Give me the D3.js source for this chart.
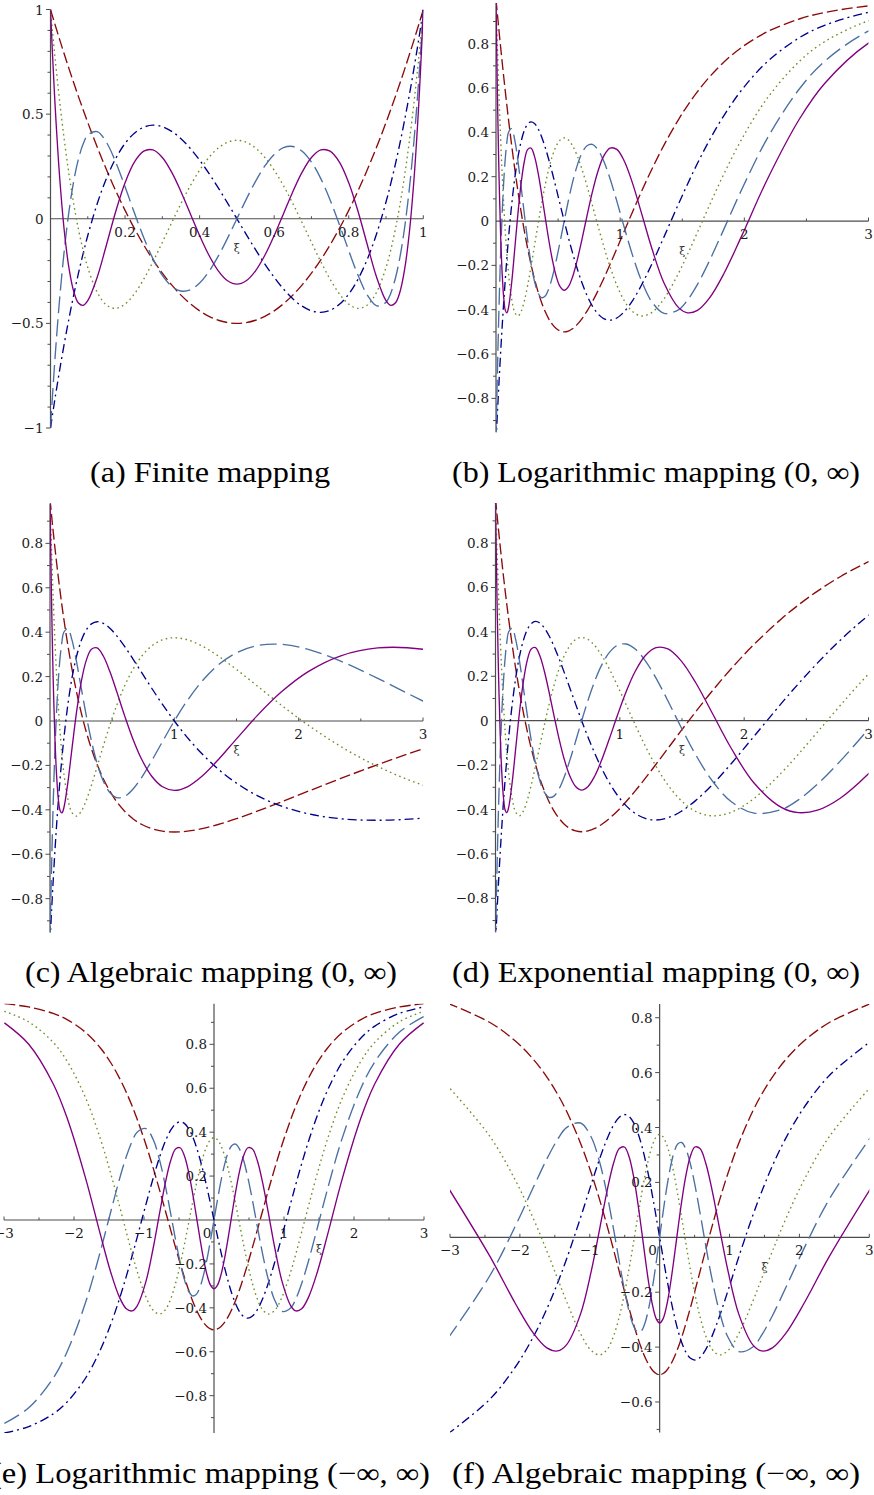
<!DOCTYPE html>
<html><head><meta charset="utf-8">
<script src="https://cdn.jsdelivr.net/npm/d3@7"></script>
<style>body{margin:0;background:#fff} svg{display:block}</style>
</head><body><svg id="c" width="874" height="1495"></svg>
<script>
// Values of the five curves, read along the mapped coordinate (shared across panels)
const P2 = [1,0.98504,0.97015,0.9406,0.91135,0.85375,0.78344,0.715,0.64844,0.58375,0.52094,0.46,0.34375,0.235,0.13375,0.04,-0.04625,-0.125,-0.19625,-0.26,-0.31625,-0.365,-0.40625,-0.44,-0.46625,-0.485,-0.49625,-0.5,-0.49625,-0.485,-0.46625,-0.44,-0.40625,-0.365,-0.31625,-0.26,-0.19625,-0.125,-0.04625,0.04,0.13375,0.235,0.34375,0.46,0.52094,0.58375,0.64844,0.715,0.78344,0.85375,0.91135,0.9406,0.97015,0.98504,1];
const P3 = [-1,-0.97019,-0.94075,-0.88298,-0.82668,-0.71844,-0.59113,-0.4725,-0.3623,-0.26031,-0.16629,-0.08,0.07031,0.1925,0.28844,0.36,0.40906,0.4375,0.44719,0.44,0.41781,0.3825,0.33594,0.28,0.21656,0.1475,0.07469,0,-0.07469,-0.1475,-0.21656,-0.28,-0.33594,-0.3825,-0.41781,-0.44,-0.44719,-0.4375,-0.40906,-0.36,-0.28844,-0.1925,-0.07031,0.08,0.16629,0.26031,0.3623,0.4725,0.59113,0.71844,0.82668,0.88298,0.94075,0.97019,1];
const P4 = [1,0.95056,0.90223,0.80886,0.71978,0.55409,0.36932,0.20794,0.06845,-0.0506,-0.15062,-0.233,-0.3501,-0.41206,-0.42841,-0.408,-0.35904,-0.28906,-0.20497,-0.113,-0.01872,0.07294,0.15771,0.232,0.29284,0.33794,0.36565,0.375,0.36565,0.33794,0.29284,0.232,0.15771,0.07294,-0.01872,-0.113,-0.20497,-0.28906,-0.35904,-0.408,-0.42841,-0.41206,-0.3501,-0.233,-0.15062,-0.0506,0.06845,0.20794,0.36932,0.55409,0.71978,0.80886,0.90223,0.95056,1];
const P5 = [-1,-0.9263,-0.85518,-0.72045,-0.59539,-0.37274,-0.14201,0.04114,0.18203,0.28566,0.35671,0.39952,0.41638,0.3652,0.27049,0.15264,0.0282,-0.08984,-0.19172,-0.27064,-0.32246,-0.34539,-0.33972,-0.30752,-0.25232,-0.17883,-0.09266,0,0.09266,0.17883,0.25232,0.30752,0.33972,0.34539,0.32246,0.27064,0.19172,0.08984,-0.0282,-0.15264,-0.27049,-0.3652,-0.41638,-0.39952,-0.35671,-0.28566,-0.18203,-0.04114,0.14201,0.37274,0.59539,0.72045,0.85518,0.9263,1];
const P6 = [1,0.8976,0.80029,0.62035,0.45899,0.18745,-0.06694,-0.24116,-0.34906,-0.403,-0.414,-0.3918,-0.28078,-0.12529,0.03468,0.1721,0.27077,0.32324,0.32898,0.29264,0.22251,0.12918,0.02428,-0.08058,-0.17465,-0.24883,-0.29622,-0.3125,-0.29622,-0.24883,-0.17465,-0.08058,0.02428,0.12918,0.22251,0.29264,0.32898,0.32324,0.27077,0.1721,0.03468,-0.12529,-0.28078,-0.3918,-0.414,-0.403,-0.34906,-0.24116,-0.06694,0.18745,0.45899,0.62035,0.80029,0.8976,1];

// ξ positions of those same samples, one array per panel
const XI_A = [0,0.0025,0.005,0.01,0.015,0.025,0.0375,0.05,0.0625,0.075,0.0875,0.1,0.125,0.15,0.175,0.2,0.225,0.25,0.275,0.3,0.325,0.35,0.375,0.4,0.425,0.45,0.475,0.5,0.525,0.55,0.575,0.6,0.625,0.65,0.675,0.7,0.725,0.75,0.775,0.8,0.825,0.85,0.875,0.9,0.9125,0.925,0.9375,0.95,0.9625,0.975,0.985,0.99,0.995,0.9975,1];
const XI_B = [0,0.0025,0.005,0.01,0.015,0.025005,0.037518,0.050042,0.062581,0.075141,0.087724,0.100335,0.125657,0.15114,0.176819,0.202733,0.228917,0.255413,0.282265,0.30952,0.337228,0.365444,0.394229,0.423649,0.453778,0.4847,0.516507,0.549306,0.583218,0.618381,0.654961,0.693147,0.733169,0.775299,0.819872,0.867301,0.918106,0.972955,1.032728,1.098612,1.172275,1.256153,1.354025,1.472219,1.542265,1.622597,1.716994,1.831781,1.978817,2.184724,2.442662,2.646652,2.994481,3.34168,null];
const XI_C = [0,0.002506,0.005025,0.010101,0.015228,0.025641,0.038961,0.052632,0.066667,0.081081,0.09589,0.111111,0.142857,0.176471,0.212121,0.25,0.290323,0.333333,0.37931,0.428571,0.481481,0.538462,0.6,0.666667,0.73913,0.818182,0.904762,1,1.105263,1.222222,1.352941,1.5,1.666667,1.857143,2.076923,2.333333,2.636364,3,3.444444,null,null,null,null,null,null,null,null,null,null,null,null,null,null,null,null];
const XI_D = [0,0.002503,0.005013,0.01005,0.015114,0.025318,0.038221,0.051293,0.064539,0.077962,0.091567,0.105361,0.133531,0.162519,0.192372,0.223144,0.254892,0.287682,0.321584,0.356675,0.393043,0.430783,0.470004,0.510826,0.553385,0.597837,0.644357,0.693147,0.74444,0.798508,0.855666,0.916291,0.980829,1.049822,1.12393,1.203973,1.290984,1.386294,1.491655,1.609438,1.742969,1.89712,2.079442,2.302585,2.436116,2.590267,2.772589,2.995732,3.283414,null,null,null,null,null,null];
const XI_E = [null,-2.994481,-2.646652,-2.29756,-2.092296,-1.831781,-1.622597,-1.472219,-1.354025,-1.256153,-1.172275,-1.098612,-0.972955,-0.867301,-0.775299,-0.693147,-0.618381,-0.549306,-0.4847,-0.423649,-0.365444,-0.30952,-0.255413,-0.202733,-0.15114,-0.100335,-0.050042,0,0.050042,0.100335,0.15114,0.202733,0.255413,0.30952,0.365444,0.423649,0.4847,0.549306,0.618381,0.693147,0.775299,0.867301,0.972955,1.098612,1.172275,1.256153,1.354025,1.472219,1.622597,1.831781,2.092296,2.29756,2.646652,2.994481,null];
const XI_F = [null,null,null,null,null,-3.042434,-2.434422,-2.064742,-1.807392,-1.613568,-1.459833,-1.333333,-1.133893,-0.980196,-0.855337,-0.75,-0.658549,-0.57735,-0.503903,-0.436436,-0.373632,-0.314485,-0.258199,-0.204124,-0.151717,-0.100504,-0.050063,0,0.050063,0.100504,0.151717,0.204124,0.258199,0.314485,0.373632,0.436436,0.503903,0.57735,0.658549,0.75,0.855337,0.980196,1.133893,1.333333,1.459833,1.613568,1.807392,2.064742,2.434422,3.042434,null,null,null,null,null];

// tick labels
const XT_A = [0.2,0.4,0.6,0.8,1];
const YT_A = [-1,-0.5,0,0.5,1];
const XT_POS = [1,2,3];
const YT_POS = [-0.8,-0.6,-0.4,-0.2,0,0.2,0.4,0.6,0.8];
const XT_ALL = [-3,-2,-1,0,1,2,3];
const YT_E = [-0.8,-0.6,-0.4,-0.2,0.2,0.4,0.6,0.8];
const YT_F = [-0.6,-0.4,-0.2,0.2,0.4,0.6,0.8];
const CAPTIONS = ["(a) Finite mapping","(b) Logarithmic mapping (0, \u221E)","(c) Algebraic mapping (0, \u221E)","(d) Exponential mapping (0, \u221E)","(e) Logarithmic mapping (\u2212\u221E, \u221E)","(f) Algebraic mapping (\u2212\u221E, \u221E)"];

const SERIES = [
  {y:P2, color:"#8b0a0a", dash:"11,4"},
  {y:P3, color:"#00008b", dash:"9,4,2,4"},
  {y:P4, color:"#6b8e23", dash:"1.6,3.4"},
  {y:P5, color:"#4a6fa3", dash:"17,6"},
  {y:P6, color:"#800080", dash:null}
];

const panels = [
  {xi:XI_A, xd:[0,1], xr:[50.5,423.3], yd:[-1,1], yr:[428,9.5], xt:XT_A, xm:0.1, yt:YT_A, cap:CAPTIONS[0], cx:90, cy:482, cw:240},
  {xi:XI_B, xd:[0,3], xr:[496,868.5], yd:[-0.953,0.983], yr:[432.3,3.1], xt:XT_POS, xm:0.5, yt:YT_POS, cap:CAPTIONS[1], cx:452, cy:482, cw:408},
  {xi:XI_C, xd:[0,3], xr:[50,423], yd:[-0.953,0.98], yr:[932.6,503.4], xt:XT_POS, xm:0.5, yt:YT_POS, cap:CAPTIONS[2], cx:25, cy:982, cw:372},
  {xi:XI_D, xd:[0,3], xr:[495.5,868.5], yd:[-0.953,0.98], yr:[932.3,503.1], xt:XT_POS, xm:0.5, yt:YT_POS, cap:CAPTIONS[3], cx:452, cy:982, cw:408},
  {xi:XI_E, xd:[-3,3], xr:[4,424], yd:[-0.9705,0.985], yr:[1433.1,1003.7], xt:XT_ALL, xm:0.5, yt:YT_E, cap:CAPTIONS[4], cx:-9, cy:1483, cw:439},
  {xi:XI_F, xd:[-3,3], xr:[450,869.3], yd:[-0.7115,0.8503], yr:[1432.6,1003.9], xt:XT_ALL, xm:0.5, yt:YT_F, cap:CAPTIONS[5], cx:452, cy:1483, cw:408}
];

const svg = d3.select("#c");
const fmt = v => (v < 0 ? "\u2212" : "") + String(Math.abs(v));
const AX = "#4d4d4d";
const TF = "DejaVu Serif, serif";

panels.forEach((p, k) => {
  const x = d3.scaleLinear().domain(p.xd).range(p.xr);
  const y = d3.scaleLinear().domain(p.yd).range(p.yr);
  const g = svg.append("g");
  const x0 = x(0), y0 = y(0);

  // axes lines
  g.append("line").attr("x1", p.xr[0]).attr("x2", p.xr[1]).attr("y1", y0).attr("y2", y0)
    .attr("stroke", AX).attr("stroke-width", 1.2);
  g.append("line").attr("x1", x0).attr("x2", x0).attr("y1", p.yr[0]).attr("y2", p.yr[1])
    .attr("stroke", AX).attr("stroke-width", 1.2);

  // y ticks
  const yMin = Math.ceil(p.yd[0] * 10 - 1e-9), yMax = Math.floor(p.yd[1] * 10 + 1e-9);
  d3.range(yMin, yMax + 1).forEach(i => {
    if (i === 0) return;
    const v = i / 10;
    const major = p.yt.some(t => Math.abs(t - v) < 1e-9);
    g.append("line").attr("x1", x0 - (major ? 4.5 : 3)).attr("x2", x0)
      .attr("y1", y(v)).attr("y2", y(v)).attr("stroke", AX).attr("stroke-width", 1);
  });
  // x ticks
  const step = p.xm;
  const xMin = Math.ceil(p.xd[0] / step - 1e-9), xMax = Math.floor(p.xd[1] / step + 1e-9);
  d3.range(xMin, xMax + 1).forEach(i => {
    const v = i * step;
    if (Math.abs(v) < 1e-9) return;
    const major = p.xt.some(t => Math.abs(t - v) < 1e-9);
    g.append("line").attr("x1", x(v)).attr("x2", x(v))
      .attr("y1", y0).attr("y2", y0 - (major ? 3.5 : 2.5)).attr("stroke", AX).attr("stroke-width", 1);
  });

  // curves
  const clipId = "clip" + k;
  svg.append("clipPath").attr("id", clipId).append("rect")
    .attr("x", p.xr[0]).attr("y", p.yr[1]).attr("width", p.xr[1] - p.xr[0]).attr("height", p.yr[0] - p.yr[1]);
  const cg = g.append("g").attr("clip-path", `url(#${clipId})`);
  const idx = d3.range(p.xi.length);
  SERIES.forEach(s => {
    const line = d3.line()
      .defined(i => p.xi[i] !== null)
      .x(i => x(p.xi[i])).y(i => y(s.y[i]))
      .curve(d3.curveCatmullRom.alpha(0.5));
    cg.append("path").attr("d", line(idx)).attr("fill", "none")
      .attr("stroke", s.color).attr("stroke-width", 1.35)
      .attr("stroke-dasharray", s.dash).attr("stroke-linecap", "butt");
  });

  // y labels
  p.yt.forEach(v => {
    g.append("text").attr("x", x0 - 7).attr("y", y(v) + 5)
      .attr("text-anchor", "end").attr("font-family", TF).attr("font-size", 13.5)
      .attr("fill", "#1a1a1a").text(fmt(v));
  });
  // x labels
  p.xt.forEach(v => {
    const off = Math.abs(v) < 1e-9 ? -7 : 0;
    g.append("text").attr("x", x(v) + off).attr("y", y0 + 18)
      .attr("text-anchor", "middle").attr("font-family", TF).attr("font-size", 13.5)
      .attr("fill", "#1a1a1a").text(fmt(v));
  });
  // ξ label
  g.append("text").attr("x", (x0 + p.xr[1]) / 2).attr("y", y0 + 30)
    .attr("text-anchor", "middle").attr("dominant-baseline", "central")
    .attr("font-family", TF).attr("font-size", 11).attr("fill", "#333").text("\u03BE");

  // caption
  svg.append("text").attr("x", p.cx).attr("y", p.cy)
    .attr("font-family", "Liberation Serif, Times New Roman, serif").attr("font-size", 29)
    .attr("textLength", p.cw).attr("lengthAdjust", "spacingAndGlyphs")
    .attr("fill", "#000").text(p.cap);
});
</script>
</body></html>
